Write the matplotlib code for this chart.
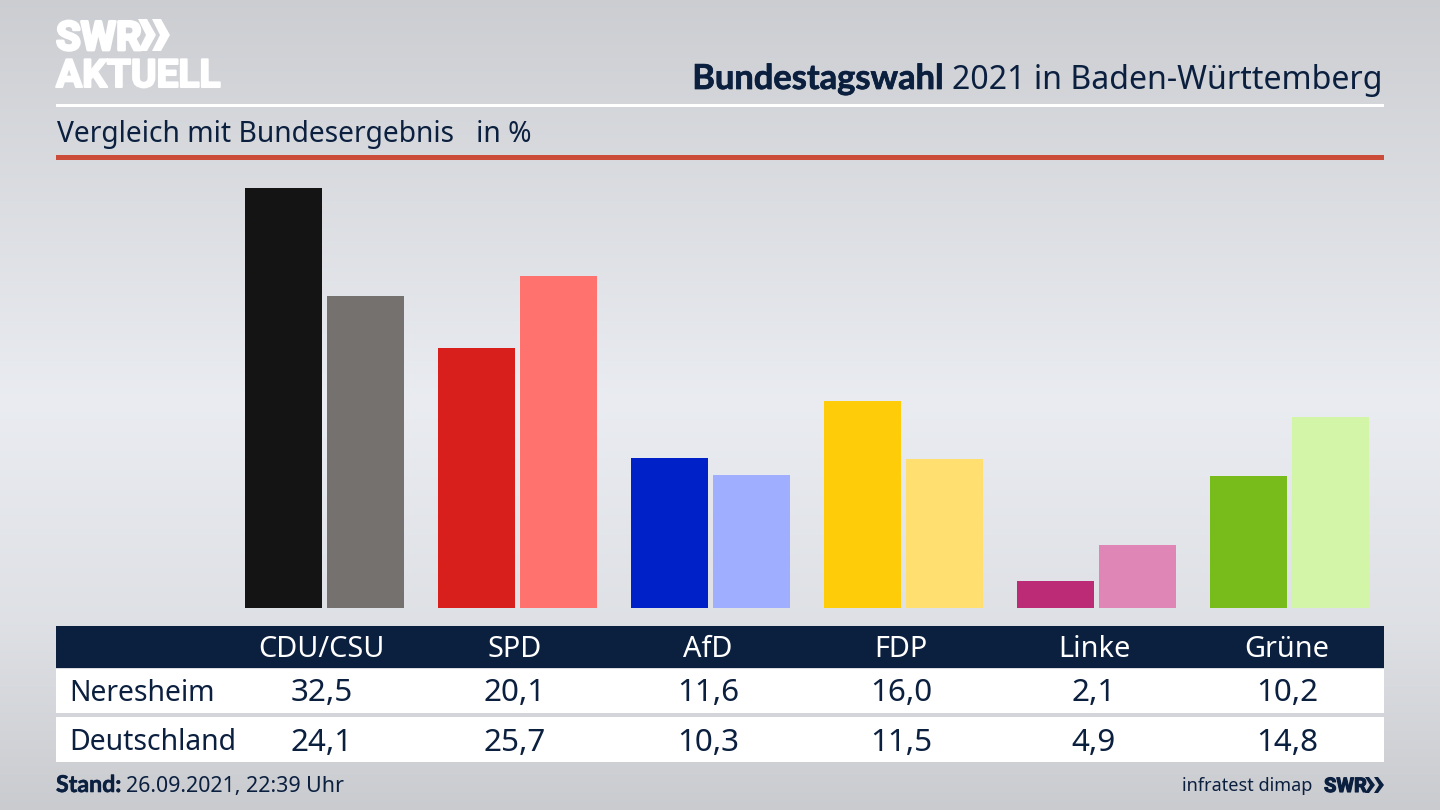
import numpy as np
import matplotlib
matplotlib.use("Agg")
import matplotlib.pyplot as plt
import matplotlib.patheffects as pe
from matplotlib.patches import Rectangle, Polygon

plt.rcParams['font.family'] = ['Noto Sans', 'DejaVu Sans']

# Data
parties = ["CDU/CSU", "SPD", "AfD", "FDP", "Linke", "Grüne"]
neresheim = [32.5, 20.1, 11.6, 16.0, 2.1, 10.2]
deutschland = [24.1, 25.7, 10.3, 11.5, 4.9, 14.8]
colors_local = ["#141414", "#d81f1c", "#0020c8", "#ffcc0a", "#bc2c76", "#78bc1c"]
colors_federal = ["#74716e", "#ff726e", "#a0aeff", "#ffdf70", "#e086b6", "#d2f5a8"]
row_labels = ["Neresheim", "Deutschland"]

NAVY = "#0b1f3f"
W, H = 1440, 810


def fmt(v):
    return f"{v:.1f}".replace(".", ",")


def heavy(width, color):
    return [pe.withStroke(linewidth=width, foreground=color)]


fig = plt.figure(figsize=(W / 100, H / 100), dpi=100)

# Background gradient, lightest around the middle
bg = fig.add_axes([0, 0, 1, 1], zorder=0)
grad_y = np.array([0, 130, 400, 620, 810])
grad_v = np.array([0.81, 0.85, 0.93, 0.885, 0.80])
shade = np.interp(np.arange(H), grad_y, grad_v)[:, None, None]
tint = np.array([0.985, 0.995, 1.015])[None, None, :]
bg.imshow(np.clip(shade * tint, 0, 1), aspect="auto", extent=(0, W, H, 0))
bg.set_axis_off()

# Bars, axes placed in pixels with the baseline at y=608
bar_top, bar_base = 160, 608
ax = fig.add_axes([0, 1 - bar_base / H, 1, (bar_base - bar_top) / H], zorder=1)
ax.patch.set_alpha(0)
x = np.arange(len(parties))
ax.bar(x - 0.2124, neresheim, width=0.397, color=colors_local)
ax.bar(x + 0.2124, deutschland, width=0.397, color=colors_federal)
ax.set_xlim((0 - 324.5) / 193, (W - 324.5) / 193)
ax.set_ylim(0, (bar_base - bar_top) / 12.93)
ax.set_axis_off()

# Overlay in pixel coordinates for header, table and footer
ov = fig.add_axes([0, 0, 1, 1], zorder=2)
ov.set_xlim(0, W)
ov.set_ylim(H, 0)
ov.patch.set_alpha(0)
ov.set_axis_off()

# Logo
ov.text(56, 50, "SWR", color="white", fontsize=29, fontweight="bold", family="Roboto",
        va="baseline", path_effects=heavy(2, "white"))
ov.text(56, 87, "AKTUELL", color="white", fontsize=28, fontweight="bold", family="Roboto",
        va="baseline", path_effects=heavy(1.5, "white"))
for dx in (138, 152):
    ov.add_patch(Polygon([(dx, 19), (dx + 9, 19), (dx + 18, 35), (dx + 9, 51), (dx, 51), (dx + 8, 35)],
                         closed=True, color="white", lw=0))

# Title, regular part right aligned with the bold part in front of it
ov.text(1383, 89, "2021 in Baden-Württemberg", color=NAVY, fontsize=23.1, ha="right", va="baseline")
ov.text(944, 89, "Bundestagswahl", color=NAVY, fontsize=24.8, fontweight="bold", family="Lato",
        ha="right", va="baseline", path_effects=heavy(0.5, NAVY))

ov.add_patch(Rectangle((56, 104), 1328, 3, color="white", lw=0))
ov.text(57, 142, "Vergleich mit Bundesergebnis   in %", color=NAVY, fontsize=20.3, va="baseline")
ov.add_patch(Rectangle((56, 155), 1328, 5, color="#cb4c39", lw=0))

# Table
ov.add_patch(Rectangle((56, 626), 1328, 42, color=NAVY, lw=0))
ov.add_patch(Rectangle((56, 669), 1328, 44, color="white", lw=0))
ov.add_patch(Rectangle((56, 717), 1328, 45, color="white", lw=0))
for i, party in enumerate(parties):
    cx = 322 + 193 * i
    ov.text(cx - (0 if i else 1), 657, party, color="white", fontsize=20.8, ha="center", va="baseline")
    ov.text(cx, 701, fmt(neresheim[i]), color=NAVY, fontsize=22.6, ha="center", va="baseline")
    ov.text(cx, 751, fmt(deutschland[i]), color=NAVY, fontsize=22.6, ha="center", va="baseline")
ov.text(69.5, 701, row_labels[0], color=NAVY, fontsize=20.4, va="baseline")
ov.text(69.5, 750, row_labels[1], color=NAVY, fontsize=20.4, va="baseline")

# Footer
ov.text(56, 792, "Stand:", color=NAVY, fontsize=16.7, fontweight="bold", family="Lato",
        va="baseline", path_effects=heavy(0.4, NAVY))
ov.text(126, 792, "26.09.2021, 22:39 Uhr", color=NAVY, fontsize=15.4, va="baseline")
ov.text(1312, 791, "infratest dimap", color=NAVY, fontsize=13, ha="right", va="baseline")
ov.text(1324, 792, "SWR", color=NAVY, fontsize=14.5, fontweight="bold", family="Roboto",
        va="baseline", path_effects=heavy(0.8, NAVY))
for dx in (1365, 1374):
    ov.add_patch(Polygon([(dx, 777), (dx + 4, 777), (dx + 10, 785), (dx + 4, 793), (dx, 793), (dx + 5, 785)],
                         closed=True, color=NAVY, lw=0))

fig.savefig("out.png", dpi=100)
